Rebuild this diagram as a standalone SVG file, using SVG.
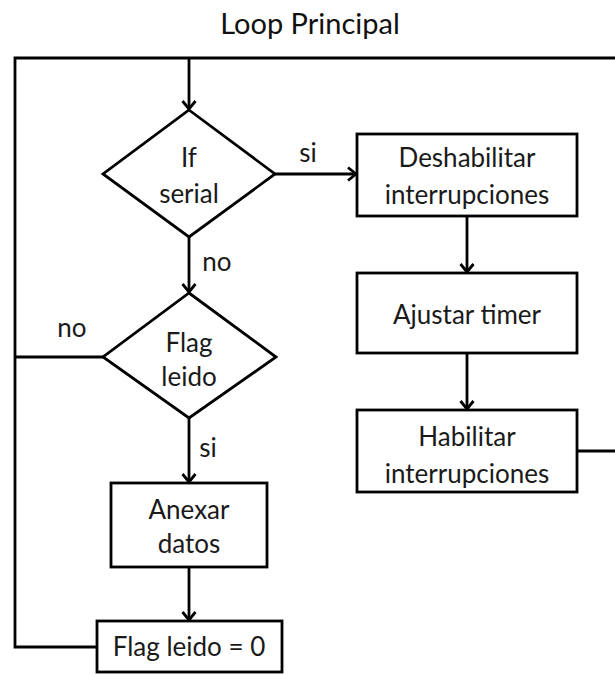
<svg xmlns="http://www.w3.org/2000/svg" width="615" height="675" viewBox="0 0 615 675">
  <style>
    .shape { fill: #ffffff; stroke: #000000; stroke-width: 2.8; }
    .wire { fill: none; stroke: #000000; stroke-width: 2.8; }
    .lbl { font-family: Lato, "Liberation Sans", sans-serif; font-size: 26px; fill: #1a1a1a; text-anchor: middle; }
    .title { font-family: Lato, "Liberation Sans", sans-serif; font-size: 29px; fill: #111111; text-anchor: middle; }
  </style>
  <defs>
    <marker id="arrow" markerUnits="userSpaceOnUse" markerWidth="20" markerHeight="20" viewBox="-12 -10 16 20" refX="0" refY="0" orient="auto">
      <path d="M-8,-6.5 L0,0 L-8,6.5" fill="none" stroke="#000000" stroke-width="2.8"/>
    </marker>
  </defs>
  <rect width="615" height="675" fill="#ffffff"/>

  <text class="title" x="310" y="34">Loop Principal</text>

  <!-- connectors -->
  <g id="connectors">
    <path class="wire" d="M615,58 H15 V647 H97"/>
    <path class="wire" d="M189,58 V109" marker-end="url(#arrow)"/>
    <path class="wire" d="M275,174 H356" marker-end="url(#arrow)"/>
    <path class="wire" d="M189,237 V292" marker-end="url(#arrow)"/>
    <path class="wire" d="M103,357 H15"/>
    <path class="wire" d="M189,418 V482" marker-end="url(#arrow)"/>
    <path class="wire" d="M189,567 V620" marker-end="url(#arrow)"/>
    <path class="wire" d="M467,216 V272" marker-end="url(#arrow)"/>
    <path class="wire" d="M467,353 V409" marker-end="url(#arrow)"/>
    <path class="wire" d="M577,451 H615"/>
    <text class="lbl" x="308" y="162">si</text>
    <text class="lbl" x="217" y="271">no</text>
    <text class="lbl" x="72" y="337">no</text>
    <text class="lbl" x="208" y="457">si</text>
  </g>

  <g id="if-serial">
    <polygon class="shape" points="189,110 275,174 189,237 103,174"/>
    <text class="lbl" x="189" y="167">If</text>
    <text class="lbl" x="189" y="203">serial</text>
  </g>

  <g id="deshabilitar">
    <rect class="shape" x="357" y="134" width="220" height="82"/>
    <text class="lbl" x="467" y="167">Deshabilitar</text>
    <text class="lbl" x="467" y="204">interrupciones</text>
  </g>

  <g id="ajustar-timer">
    <rect class="shape" x="357" y="273" width="220" height="80"/>
    <text class="lbl" x="467" y="324">Ajustar timer</text>
  </g>

  <g id="habilitar">
    <rect class="shape" x="357" y="410" width="220" height="82"/>
    <text class="lbl" x="467" y="446">Habilitar</text>
    <text class="lbl" x="467" y="483">interrupciones</text>
  </g>

  <g id="flag-leido">
    <polygon class="shape" points="189,293 276,357 189,418 103,357"/>
    <text class="lbl" x="189" y="352">Flag</text>
    <text class="lbl" x="189" y="386">leido</text>
  </g>

  <g id="anexar-datos">
    <rect class="shape" x="111" y="483" width="156" height="84"/>
    <text class="lbl" x="189" y="519">Anexar</text>
    <text class="lbl" x="189" y="553">datos</text>
  </g>

  <g id="flag-reset">
    <rect class="shape" x="97" y="621" width="185" height="51"/>
    <text class="lbl" x="189" y="656">Flag leido = 0</text>
  </g>
</svg>
